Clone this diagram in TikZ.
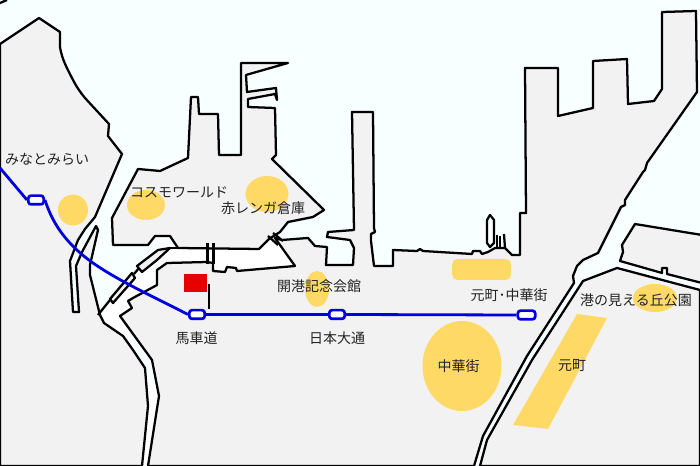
\documentclass[tikz,border=0pt]{standalone}
\usepackage{fontspec}
\setmainfont{Noto Sans CJK JP}
\definecolor{sea}{HTML}{F7FFFF}
\definecolor{land}{HTML}{F2F2F2}
\definecolor{spot}{HTML}{FFD966}
\definecolor{rail}{HTML}{0000DD}
\definecolor{redmark}{HTML}{E60000}
\definecolor{ink}{HTML}{222222}
\tikzset{
 landshape/.style={fill=land,draw=black,line width=1.7pt,line join=round},
 bank/.style={draw=black,line width=1.7pt,line join=round},
 spotshape/.style={fill=spot,draw=none},
 lab/.style={text=ink,font=\fontsize{10.5}{12}\selectfont,inner sep=0pt},
 station/.style={draw=rail,fill=white,line width=2pt,rounded corners=2pt,minimum width=11.5pt,minimum height=6.5pt,inner sep=0pt},
 railway/.style={draw=rail,line width=2.1pt}
}
\begin{document}
\begin{tikzpicture}[x=0.75pt,y=-0.75pt]
\useasboundingbox (0,0) rectangle (700,466);
\fill[sea] (0,0) rectangle (700,466);
% canal water
\fill[white] (100,315) -- (110,300) -- (135,275) -- (140,270) -- (170,248) -- (259,249) -- (270,238) -- (278,244) -- (295,267) -- (237,271) -- (157,285) -- (120,316) -- (159,396) -- (148,466) -- (142,466) -- (148,406) -- (145,368) -- (133,350) -- (123,336) -- (104,323) -- cycle;
% left land
\draw[landshape] (0,44) -- (39,18) -- (60,32) -- (60,47) .. controls (62,60) and (68,70) .. (72,78) .. controls (76,86) and (80,92) .. (85,98) -- (109,124) -- (108,136) -- (122,154) -- (95,217) -- (85,229) -- (78,240) -- (70,261) -- (73,312) -- (79,312) -- (76,266) -- (82,252) -- (96,226) -- (98,230) -- (90,265) -- (90,275) -- (100,315) -- (104,323) -- (123,336) -- (133,350) -- (145,368) -- (148,406) -- (142,466) -- (0,466) -- cycle;
% main land
\draw[landshape] (148,466) -- (159,396) -- (152,360) -- (120,316) -- (132,308) -- (128,301) -- (133,298) -- (157,285) -- (157,270) -- (167,263) -- (207,262) -- (213,263) -- (213,271) -- (225,272) -- (227,267) -- (236,268) -- (237,271) -- (295,266) -- (275,238) -- (282,240) -- (308,238) -- (315,246) -- (327,247) -- (326,265) -- (353,265) -- (354,248) -- (350,240) -- (327,237) -- (328,232) -- (354,230) -- (352,112) -- (373,112) -- (374,228) -- (375,232) -- (371,234) -- (371,241) -- (374,266) -- (393,266) -- (393,250) -- (417,251) -- (420,249) -- (423,251) -- (472,254) -- (473,251) -- (480,251) -- (482,254) -- (488,252) -- (495,248) -- (505,248) -- (512,255) -- (520,255) -- (520,213) -- (526,213) -- (525,68) -- (558,68) -- (558,116) -- (593,108) -- (593,61) -- (627,59) -- (628,104) -- (654,101) -- (662,89) -- (662,12) -- (696,11) -- (697,92) -- (647,163) -- (645,170) -- (643,172) -- (625,200) -- (625,205) -- (621,207) -- (608,233) -- (598,253) -- (583,260) -- (577,266) -- (573,276) -- (574,283) -- (527,356) -- (483,436) -- (474,466) -- cycle;
% Cosmo island
\draw[landshape] (138,169) -- (160,171) -- (188,158) -- (191,97) -- (198,97) -- (199,114) -- (218,114) -- (219,155) -- (241,155) -- (241,63) -- (288,63) -- (246,75) -- (247,92) -- (276,88) -- (277,100) -- (275,94) -- (248,99) -- (248,107) -- (275,108) -- (276,155) -- (272,159) -- (324,210) -- (313,217) -- (288,222) -- (280,232) -- (269,239) -- (259,249) -- (178,248) -- (170,236) -- (155,236) -- (148,245) -- (113,245) -- (112,218) -- cycle;
% road side land
\draw[landshape] (583,281) -- (532,360) -- (487,440) -- (480,466) -- (700,466) -- (700,290) -- (617,268) -- cycle;
% top right block
\draw[landshape] (635,224) -- (702,235) -- (702,283) -- (667,274) -- (667,268) -- (662,268) -- (662,273) -- (620,261) -- (623,252) -- (622,245) -- cycle;
% upper canal bank, breakwaters
\draw[bank] (170,248) -- (207,248);
\draw[landshape] (137,266) -- (158,250) -- (170,248) -- (157,260) -- (142,272) -- cycle;
\draw[landshape] (110,299) -- (132,273) -- (135,278) -- (113,303) -- cycle;
\draw[bank] (98,315) -- (110,300);
\draw[bank] (134,274) -- (139,268);
% bridges
\draw[bank] (207.5,243) -- (207.5,264);
\draw[bank] (213.5,243) -- (213.5,264);
\draw[bank] (268,236) -- (278,245);
\draw[bank] (273,233) -- (283,241);
% small pier
\draw[bank,fill=sea] (487,243) -- (487,220) -- (490,215) -- (494,220) -- (494,243) -- (490,247) -- cycle;
\draw[bank] (497,235) -- (497,248);
\draw[bank] (500,236) -- (500,248);
\draw[bank] (504,234) -- (505,248);
\draw[bank] (0,3) -- (7,0);
% spots
\fill[spotshape] (73,210) circle [x radius=15,y radius=15.5];
\fill[spotshape] (146,205) circle [x radius=19,y radius=15];
\fill[spotshape] (267,194) circle [x radius=21.5,y radius=18];
\fill[spotshape] (317,289) circle [x radius=12,y radius=18];
\fill[spotshape,rounded corners=4pt] (452,259) rectangle (511,280);
\fill[spotshape] (462,366) circle [x radius=39.5,y radius=45];
\fill[spotshape] (577,314) -- (607,318) -- (548,429) -- (513,425) -- cycle;
\fill[spotshape] (655,298) circle [x radius=22,y radius=14];
% entrance mark
\fill[redmark] (184,274) rectangle (207,292);
\draw[black,line width=1.7pt] (209,284) -- (209,309);
% rail
\coordinate (railstart) at (0,168);
\node[station] (st1) at (36,200) {};
\node[station] (st2) at (197,314.5) {};
\node[station] (st3) at (337,314.5) {};
\node[station,minimum width=13pt] (st4) at (526.5,315) {};
\draw[railway] (railstart) -- (st1.west);
\draw[railway] (st1.east) .. controls (52,222) and (64,240) .. (85,257) .. controls (110,277) and (150,295) .. (st2.west);
\draw[railway] (st2.east) -- (st3.west);
\draw[railway] (st3.east) -- (st4.west);
\node[lab] (l1) at (47,159.5) {みなとみらい};
\node[lab] (l2) at (179,192) {コスモワールド};
\node[lab] (l3) at (263,208.5) {赤レンガ倉庫};
\node[lab] (l4) at (319,286) {開港記念会館};
\node[lab] (l5) at (196.5,338) {馬車道};
\node[lab] (l6) at (337,338) {日本大通};
\node[lab] (l7) at (509,295.5) {元町･中華街};
\node[lab] (l8) at (458.5,366) {中華街};
\node[lab] (l9) at (572,365.5) {元町};
\node[lab] (l10) at (636,300) {港の見える丘公園};
\end{tikzpicture}
\end{document}
